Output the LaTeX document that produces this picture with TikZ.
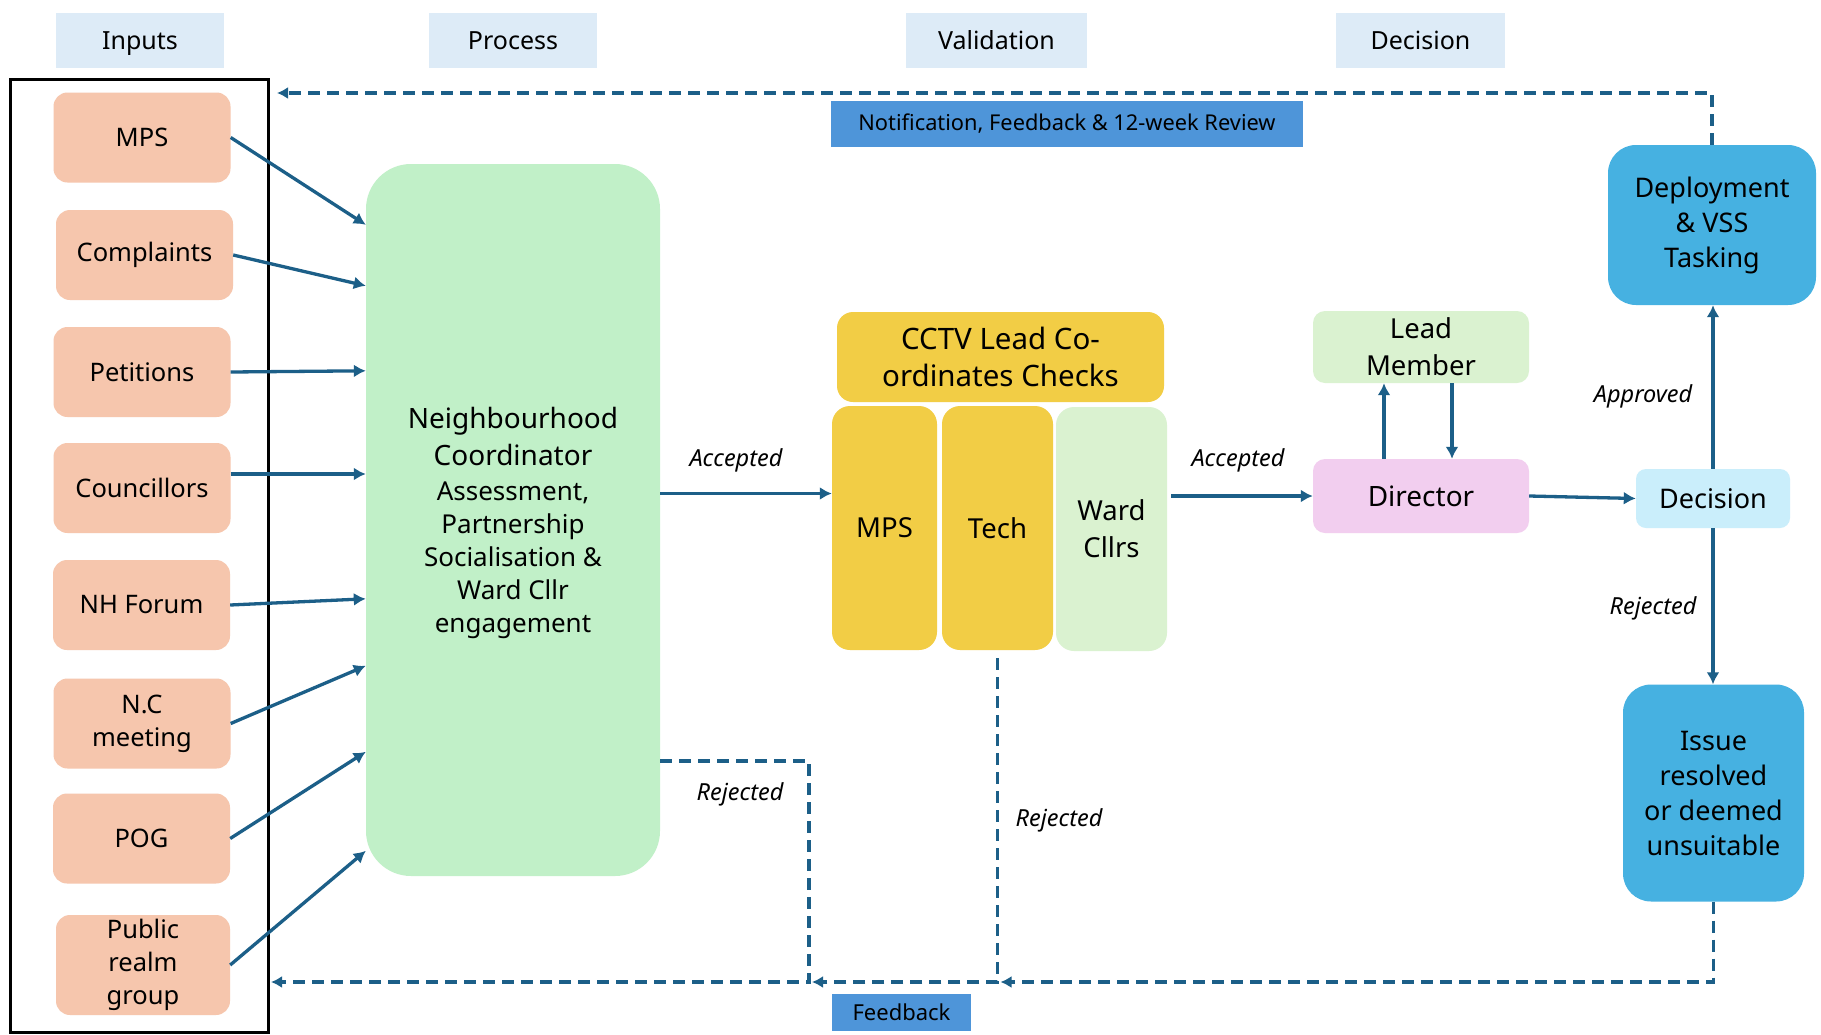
\documentclass[tikz,border=0pt]{standalone}
\usepackage{fontspec}
\setmainfont{Noto Sans}
\usetikzlibrary{arrows.meta}

\definecolor{flowblue}{HTML}{1C5F88}
\definecolor{headblue}{HTML}{DDEBF7}
\definecolor{peach}{HTML}{F6C6AD}
\definecolor{ncgreen}{HTML}{C1F0C8}
\definecolor{palegreen}{HTML}{DAF2D0}
\definecolor{gold}{HTML}{F2CD45}
\definecolor{pinkbox}{HTML}{F2CEEF}
\definecolor{skyblue}{HTML}{CAEEFB}
\definecolor{deepsky}{HTML}{46B1E1}
\definecolor{midblue}{HTML}{4E95D9}

\begin{document}
\begin{tikzpicture}[x=1pt, y=-1pt,
	box/.style={rectangle, inner sep=0pt, align=center, text=black},
	head/.style={box, fill=headblue, minimum height=55pt, text height=18pt, text depth=0pt, font=\fontsize{25pt}{30pt}\selectfont},
	input/.style={box, fill=peach, rounded corners=14pt, minimum width=177pt, minimum height=90pt, font=\fontsize{25.5pt}{33pt}\selectfont},
	column/.style={box, fill=gold, rounded corners=18pt, minimum height=244pt, font=\fontsize{27.5pt}{37pt}\selectfont},
	flow/.style={draw=flowblue, line width=3.3pt, -{Latex[length=12pt,width=13pt]}},
	back/.style={draw=flowblue, line width=3.3pt, dash pattern=on 12pt off 7pt},
	backarrow/.style={back, -{Latex[length=11pt,width=12pt]}},
	tag/.style={inner sep=0pt, font=\itshape\fontsize{23.5pt}{28pt}\selectfont}]
	
	% Page
	\path[use as bounding box, fill=white] (0,0) rectangle (1821,1034);
	
	% Draw column headings
	\node[head, minimum width=168pt] (hin) at (140,40) {Inputs};
	\node[head, minimum width=168pt] (hpr) at (513,40) {Process};
	\node[head, minimum width=181pt] (hva) at (996.5,40) {Validation};
	\node[head, minimum width=169pt] (hde) at (1420.5,40) {Decision};
	
	% Draw input frame
	\node[draw=black, line width=3pt, inner sep=0pt, minimum width=258pt, minimum height=953pt] (inputs) at (139,555.5) {};
	
	% Draw inputs
	\node[input] (mps) at (142,137.5) {MPS};
	\node[input] (cmp) at (144.5,255) {Complaints};
	\node[input] (pet) at (142,372) {Petitions};
	\node[input] (cou) at (142,488) {Councillors};
	\node[input] (nhf) at (141.5,605) {NH Forum};
	\node[input] (ncm) at (142,723.5) {N.C\\meeting};
	\node[input] (pog) at (141.5,838.5) {POG};
	\node[input, minimum width=174pt, minimum height=100pt] (prg) at (143,965) {Public\\realm\\group};
	
	% Draw process box
	\node[box, fill=ncgreen, rounded corners=45pt, minimum width=294pt, minimum height=712pt, text depth=0pt, font=\fontsize{26pt}{33pt}\selectfont] (nc) at (513,520)
		{{\fontsize{28pt}{37pt}\selectfont Neighbourhood}\\[4pt]
		 {\fontsize{28pt}{37pt}\selectfont Coordinator}\\[2pt]
		 Assessment,\\ Partnership\\ Socialisation \&\\ Ward Cllr\\ engagement};
	
	% Draw input arrows
	\foreach \src/\dy in {mps/61, cmp/122, pet/207, nhf/435, ncm/502, pog/588, prg/687}
		\draw[flow] (\src.east) -- ([yshift=-\dy]nc.north west);
	\draw[flow] (cou.east |- 0,474) -- (nc.west |- 0,474);
	
	% Draw validation
	\node[box, fill=gold, rounded corners=16pt, minimum width=327pt, minimum height=90pt, font=\fontsize{29.5pt}{37pt}\selectfont] (cctv) at (1000.5,357) {CCTV Lead Co-\\ordinates Checks};
	\node[column, minimum width=105pt] (vmps) at (884.5,528) {MPS};
	\node[column, minimum width=111pt] (vtech) at (997.5,528) {Tech};
	\node[column, minimum width=111pt, fill=palegreen] (vward) at (1111.5,529) {Ward\\Cllrs};
	
	% Draw decision
	\node[box, fill=palegreen, rounded corners=12pt, minimum width=216pt, minimum height=72pt, font=\fontsize{27.5pt}{37pt}\selectfont] (lead) at (1421,347) {Lead\\Member};
	\node[box, fill=pinkbox, rounded corners=12pt, minimum width=216pt, minimum height=74pt, font=\fontsize{28pt}{34pt}\selectfont] (dir) at (1421,496) {Director};
	\node[box, fill=skyblue, rounded corners=10pt, minimum width=154pt, minimum height=59pt, font=\fontsize{27pt}{34pt}\selectfont] (dec) at (1713,498.5) {Decision};
	\node[box, fill=deepsky, rounded corners=28pt, minimum width=208pt, minimum height=160pt, font=\fontsize{27pt}{35pt}\selectfont] (dep) at (1712,225) {Deployment\\\& VSS\\Tasking};
	\node[box, fill=deepsky, rounded corners=28pt, minimum width=181pt, minimum height=217pt, font=\fontsize{27pt}{35pt}\selectfont] (iss) at (1713.5,793) {Issue\\resolved\\or deemed\\unsuitable};
	
	% Draw feedback labels
	\node[box, fill=midblue, minimum width=472pt, minimum height=46pt, font=\fontsize{21.8pt}{25pt}\selectfont] (note) at (1067,124) {Notification, Feedback \& 12-week Review};
	\node[box, fill=midblue, minimum width=139pt, minimum height=37pt, font=\fontsize{22pt}{26pt}\selectfont] (fb) at (901.5,1012.5) {Feedback};
	
	% Draw accepted flow
	\coordinate (acc) at ([yshift=26.5]nc.east);
	\draw[flow] (acc) -- (acc -| vmps.west);
	\node[tag] (acc1) at (736,460) {Accepted};
	\draw[flow] ([xshift=4]vward.east |- dir.west) -- (dir.west);
	\node[tag] (acc2) at (1238,460) {Accepted};
	\draw[flow] (dir.east) -- (dec.west);
	\draw[flow] ([xshift=-37]dir.north) -- ([xshift=-37]lead.south);
	\draw[flow] ([xshift=31]lead.south) -- ([xshift=31]dir.north);
	
	% Draw decision outcomes
	\draw[flow] (dec.north) -- (dec.north |- dep.south);
	\node[tag] (appr) at (1643,396) {Approved};
	\draw[flow] (dec.south) -- (dec.south |- iss.north);
	\node[tag] (rej3) at (1653,608) {Rejected};
	
	% Draw review loop
	\coordinate (topL) at (277,93);
	\draw[backarrow] (dep.north) -- (dep.north |- topL) -- (topL);
	
	% Draw rejected loops
	\coordinate (botL) at (271,982);
	\coordinate (rejx) at (809,761);
	\draw[backarrow] (iss.south) -- (iss.south |- botL) -- ([xshift=3]vtech.south |- botL);
	\draw[backarrow] ([yshift=-8]vtech.south) -- (vtech.south |- botL) -- ([xshift=3]rejx |- botL);
	\draw[backarrow] (nc.east |- rejx) -- (rejx) -- (rejx |- botL) -- (botL);
	\node[tag] (rej1) at (740,794) {Rejected};
	\node[tag] (rej2) at (1059,820) {Rejected};
\end{tikzpicture}
\end{document}
